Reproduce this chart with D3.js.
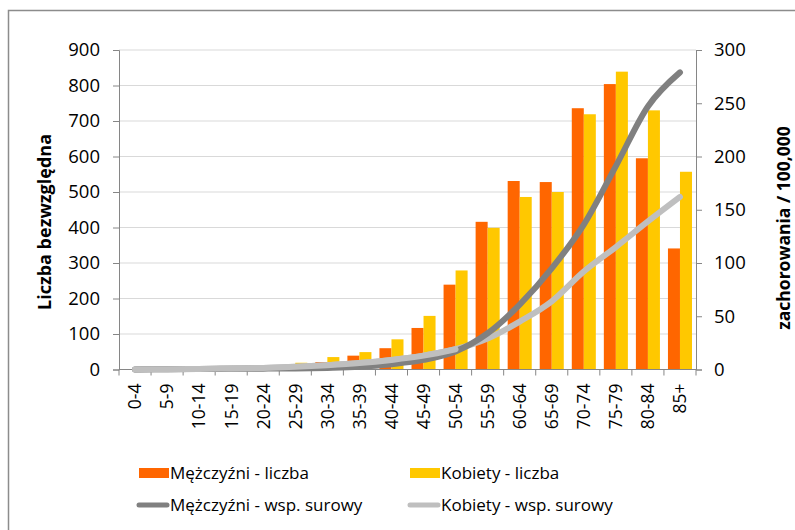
<!DOCTYPE html>
<html>
<head>
<meta charset="utf-8">
<script src="https://cdn.jsdelivr.net/npm/d3@7"></script>
<style>
  body { margin: 0; background: #fff; }
  text { font-family: "Open Sans", sans-serif; fill: #000; }
</style>
</head>
<body>
<svg id="chart" width="795" height="530"></svg>
<script>
// age groups
var ageGroups = ["0-4","5-9","10-14","15-19","20-24","25-29","30-34","35-39","40-44","45-49",
                 "50-54","55-59","60-64","65-69","70-74","75-79","80-84","85+"];
// liczba (left axis)
var menCount   = [0, 0, 1, 2, 3, 10, 21, 39, 60, 117, 239, 416, 531, 528, 736, 804, 595, 341];
var womenCount = [0, 0, 1, 2, 5, 19, 35, 49, 85, 151, 279, 399, 486, 500, 719, 839, 730, 557];
// wsp. surowy (right axis)
var menRate    = [0, 0.2, 0.4, 0.6, 0.8, 1, 1.5, 2.5, 5, 9, 17, 34, 61, 95, 136, 191, 247, 279];
var womenRate  = [0, 0.3, 0.5, 1, 1.5, 2.5, 4, 6, 9, 13, 19, 29, 45, 64, 92, 115, 139, 162];
var leftTicks  = [0,100,200,300,400,500,600,700,800,900];
var rightTicks = [0,50,100,150,200,250,300];

var colMen = "#ff6600", colWomen = "#ffc800", colMenLine = "#808080", colWomenLine = "#bfbfbf";

var svg = d3.select("#chart");
var L = 119, R = 696, T = 50, B = 369.5;

// outer frame
svg.append("rect").attr("x", 8.5).attr("y", 10.5).attr("width", 800).attr("height", 540)
   .attr("fill", "none").attr("stroke", "#8c8c8c").attr("stroke-width", 1.5);

var x = d3.scaleBand().domain(ageGroups).range([L, R]).paddingInner(0.25).paddingOuter(0.125);
var xb = d3.scaleBand().domain(ageGroups).range([L, R]);
var yL = d3.scaleLinear().domain([0, 900]).range([B, T]);
var yR = d3.scaleLinear().domain([0, 300]).range([B, T]);

// gridlines
svg.append("g").selectAll("line").data(leftTicks.slice(1)).enter().append("line")
   .attr("x1", L).attr("x2", R).attr("y1", d => yL(d)).attr("y2", d => yL(d))
   .attr("stroke", "#d9d9d9").attr("stroke-width", 1);

// bars
var bw = x.bandwidth() / 2;
svg.append("g").selectAll("rect").data(ageGroups).enter().append("rect")
   .attr("x", d => x(d)).attr("width", bw)
   .attr("y", (d, i) => yL(menCount[i])).attr("height", (d, i) => B - yL(menCount[i]))
   .attr("fill", colMen);
svg.append("g").selectAll("rect").data(ageGroups).enter().append("rect")
   .attr("x", d => x(d) + bw).attr("width", bw)
   .attr("y", (d, i) => yL(womenCount[i])).attr("height", (d, i) => B - yL(womenCount[i]))
   .attr("fill", colWomen);

// axes
var axL = svg.append("g").attr("transform", "translate(" + L + ",0)")
   .call(d3.axisLeft(yL).tickValues(leftTicks).tickSize(6).tickPadding(13));
var axR = svg.append("g").attr("transform", "translate(" + R + ",0)")
   .call(d3.axisRight(yR).tickValues(rightTicks).tickSize(6).tickPadding(12));
[axL, axR].forEach(function(a){
  a.select(".domain").attr("stroke", "#868686");
  a.selectAll(".tick line").attr("stroke", "#868686");
  a.selectAll(".tick text").attr("font-size", 18.5).attr("font-family", "Open Sans");
});

// x axis with ticks at band boundaries
var xg = svg.append("g");
xg.append("line").attr("x1", L).attr("x2", R).attr("y1", B).attr("y2", B).attr("stroke", "#868686");
xg.selectAll("line.tk").data(ageGroups.concat(["end"])).enter().append("line").attr("class", "tk")
   .attr("x1", (d, i) => L + i * xb.bandwidth()).attr("x2", (d, i) => L + i * xb.bandwidth())
   .attr("y1", B).attr("y2", B + 6).attr("stroke", "#868686");
xg.selectAll("text").data(ageGroups).enter().append("text")
   .attr("transform", d => "translate(" + (xb(d) + xb.bandwidth() / 2) + "," + (B + 14) + ") rotate(-90)")
   .attr("text-anchor", "end").attr("dy", "0.36em").attr("font-size", 17.5).text(d => d);

// rate lines (Excel-like smoothing)
var line = d3.line().x((d, i) => xb(ageGroups[i]) + xb.bandwidth() / 2).y(d => yR(d)).curve(d3.curveCatmullRom.alpha(0));
svg.append("path").datum(womenRate).attr("d", line).attr("fill", "none")
   .attr("stroke", colWomenLine).attr("stroke-width", 6).attr("stroke-linecap", "round");
svg.append("path").datum(menRate).attr("d", line).attr("fill", "none")
   .attr("stroke", colMenLine).attr("stroke-width", 6).attr("stroke-linecap", "round");
// women line drawn on top at the low end where it covers the men line
svg.append("path").datum(womenRate.slice(0, 11)).attr("d", line).attr("fill", "none")
   .attr("stroke", colWomenLine).attr("stroke-width", 6).attr("stroke-linecap", "round");

// axis titles
svg.append("text").attr("transform", "translate(51,222) rotate(-90)").attr("text-anchor", "middle")
   .attr("font-size", 18).attr("font-weight", "bold").text("Liczba bezwzględna");
svg.append("text").attr("transform", "translate(790,228) rotate(-90)").attr("text-anchor", "middle")
   .attr("font-size", 17.5).attr("font-weight", "bold").text("zachorowania / 100,000");

// legend
var legend = [
  {name: "Mężczyźni - liczba", type: "bar", color: colMen, x: 139, y: 473},
  {name: "Kobiety - liczba", type: "bar", color: colWomen, x: 410, y: 473},
  {name: "Mężczyźni - wsp. surowy", type: "line", color: colMenLine, x: 139, y: 505},
  {name: "Kobiety - wsp. surowy", type: "line", color: colWomenLine, x: 410, y: 505}
];
var lg = svg.append("g").selectAll("g").data(legend).enter().append("g");
lg.filter(d => d.type == "bar").append("rect")
   .attr("x", d => d.x).attr("y", d => d.y - 5).attr("width", 30).attr("height", 10).attr("fill", d => d.color);
lg.filter(d => d.type == "line").append("line")
   .attr("x1", d => d.x).attr("x2", d => d.x + 28).attr("y1", d => d.y).attr("y2", d => d.y)
   .attr("stroke", d => d.color).attr("stroke-width", 5).attr("stroke-linecap", "round");
lg.append("text").attr("x", d => d.x + 31).attr("y", d => d.y).attr("dy", "0.35em")
   .attr("font-size", 17).text(d => d.name);
</script>
</body>
</html>
